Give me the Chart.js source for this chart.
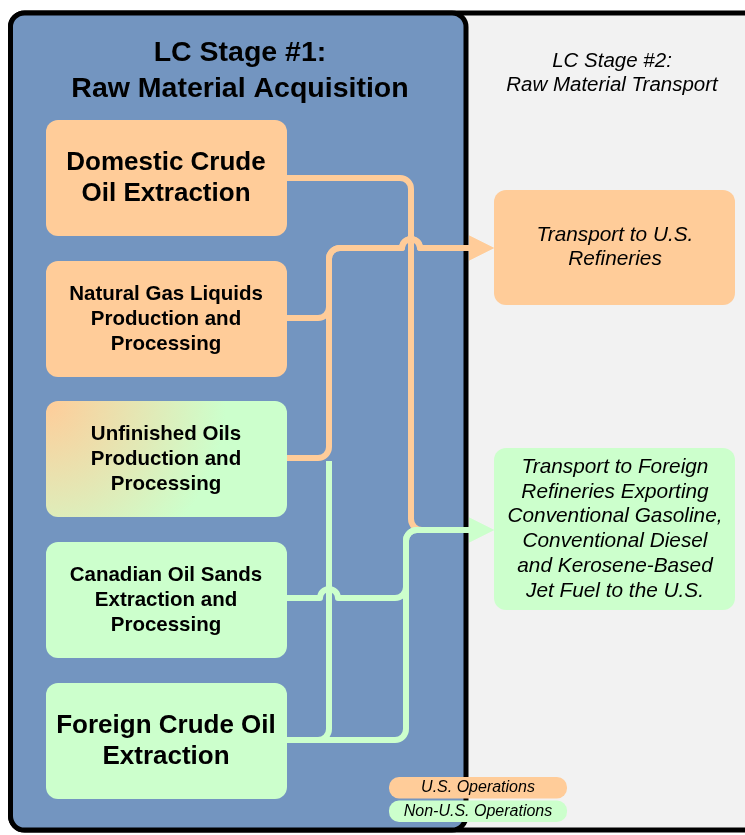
<!DOCTYPE html>
<html>
<head>
<meta charset="utf-8">
<style>
  html, body { margin: 0; padding: 0; background: #fff; }
  #wrap { width: 745px; height: 835px; position: relative; }
</style>
<script src="https://cdn.jsdelivr.net/npm/chart.js@4.4.1/dist/chart.umd.min.js"></script>
</head>
<body>
<div id="wrap"><canvas id="main-chart"></canvas></div>
<script>
// ---- diagram content ----
const stageTitles   = [['LC Stage #1:', 'Raw Material Acquisition'], ['LC Stage #2:', 'Raw Material Transport']];
const sourceNames   = [
  ['Domestic Crude', 'Oil Extraction'],
  ['Natural Gas Liquids', 'Production and', 'Processing'],
  ['Unfinished Oils', 'Production and', 'Processing'],
  ['Canadian Oil Sands', 'Extraction and', 'Processing'],
  ['Foreign Crude Oil', 'Extraction']
];
const sourceOps     = ['us', 'us', 'mixed', 'non', 'non'];
const targetNames   = [
  ['Transport to U.S.', 'Refineries'],
  ['Transport to Foreign', 'Refineries Exporting', 'Conventional Gasoline,', 'Conventional Diesel', 'and Kerosene-Based', 'Jet Fuel to the U.S.']
];
const targetOps     = ['us', 'non'];
const legendLabels  = ['U.S. Operations', 'Non-U.S. Operations'];
const legendOps     = ['us', 'non'];

// ---- layout (diagram units, 745 x 835, y down) ----
const srcX = 46, srcW = 241, srcH = 116;
const srcTop = [120, 261, 401, 542, 683];
const tgtX = 494, tgtW = 241;
const tgtBox = [[190, 115], [448, 162]];
const COLORS = { us: '#ffcc99', non: '#ccffcc', blue: '#7395c0', grey: '#f2f2f2' };
const FONT = '"Liberation Sans", Arial, sans-serif';

// routes: point lists, {hop:x} marks a jump over a vertical line
const routes = [
  { op: 'us',  pts: [[284,178],[411,178],[411,530],[440,530]] },
  { op: 'us',  pts: [[284,318],[329,318],[329,248],{hop:411},[472,248]], arrow: true },
  { op: 'us',  pts: [[284,458],[329,458],[329,248],{hop:411},[472,248]], arrow: true },
  { op: 'non', pts: [[329,461],[329,740],[284,740]] },
  { op: 'non', pts: [[284,740],[406,740],[406,530],[472,530]], arrow: true },
  { op: 'non', pts: [[284,598],{hop:329},[406,598],[406,530],[472,530]], arrow: true }
];

function rr(ctx, x, y, w, h, r) {
  ctx.beginPath();
  ctx.moveTo(x + r, y);
  ctx.arcTo(x + w, y, x + w, y + h, r);
  ctx.arcTo(x + w, y + h, x, y + h, r);
  ctx.arcTo(x, y + h, x, y, r);
  ctx.arcTo(x, y, x + w, y, r);
  ctx.closePath();
}

const diagram = {
  id: 'diagram',
  beforeDatasetsDraw(ch) {
    const c = ch.ctx, xs = ch.scales.x, ys = ch.scales.y;
    const X = v => xs.getPixelForValue(v), Y = v => ys.getPixelForValue(v);
    c.save();

    // outer frame + stage panels
    rr(c, X(10.5), Y(13), X(790) - X(10.5), Y(830) - Y(13), 14);
    c.fillStyle = COLORS.grey; c.fill();
    c.lineWidth = 5; c.strokeStyle = '#000'; c.stroke();
    rr(c, X(10.5), Y(13), X(466) - X(10.5), Y(830) - Y(13), 14);
    c.fillStyle = COLORS.blue; c.fill(); c.stroke();

    // titles
    c.fillStyle = '#000'; c.textAlign = 'center'; c.textBaseline = 'middle';
    c.font = 'bold 28.5px ' + FONT;
    c.fillText(stageTitles[0][0], X(240), Y(53));
    c.fillText(stageTitles[0][1], X(240), Y(89));
    c.font = 'italic 20.5px ' + FONT;
    c.fillText(stageTitles[1][0], X(612), Y(61));
    c.fillText(stageTitles[1][1], X(612), Y(85));

    // connectors
    c.lineWidth = 6; c.lineJoin = 'round'; c.lineCap = 'butt';
    const R = 11, HR = 9;
    const ptOf = (p, k, yPrev) => p[k].hop !== undefined ? [p[k].hop, yPrev] : p[k];
    routes.forEach(rt => {
      c.strokeStyle = COLORS[rt.op];
      c.beginPath();
      const p = rt.pts;
      c.moveTo(X(p[0][0]), Y(p[0][1]));
      let yLast = p[0][1];
      for (let i = 1; i < p.length; i++) {
        const q = p[i];
        if (q.hop !== undefined) {
          const y = yLast, hx = q.hop, r = X(hx + HR) - X(hx);
          c.lineTo(X(hx - HR), Y(y));
          c.arc(X(hx), Y(y), r, Math.PI, 2 * Math.PI, false);
          continue;
        }
        yLast = q[1];
        const nxt = p[i + 1];
        if (nxt) {
          const n = ptOf(p, i + 1, q[1]);
          c.arcTo(X(q[0]), Y(q[1]), X(n[0]), Y(n[1]), R);
        } else c.lineTo(X(q[0]), Y(q[1]));
      }
      c.stroke();
      if (rt.arrow) {
        const e = p[p.length - 1];
        c.fillStyle = COLORS[rt.op];
        c.beginPath();
        c.moveTo(X(469), Y(e[1] - 12.5));
        c.lineTo(X(494), Y(e[1]));
        c.lineTo(X(469), Y(e[1] + 12.5));
        c.closePath(); c.fill();
      }
    });

    // source boxes
    sourceNames.forEach((lines, i) => {
      const x = X(srcX), y = Y(srcTop[i]), w = X(srcX + srcW) - x, h = Y(srcTop[i] + srcH) - y;
      rr(c, x, y, w, h, 12);
      if (sourceOps[i] === 'mixed') {
        const g = c.createRadialGradient(x, y, 0, x, y, 180);
        g.addColorStop(0, COLORS.us); g.addColorStop(1, COLORS.non);
        c.fillStyle = g;
      } else c.fillStyle = COLORS[sourceOps[i]];
      c.fill();
      const big = lines.length === 2;
      const fs = big ? 26 : 20.5, lh = big ? 31 : 25;
      c.font = 'bold ' + fs + 'px ' + FONT;
      c.fillStyle = '#000';
      const cy = srcTop[i] + srcH / 2 - (lines.length - 1) * lh / 2;
      lines.forEach((t, k) => c.fillText(t, X(166), Y(cy + k * lh)));
    });

    // target boxes
    targetNames.forEach((lines, i) => {
      const [ty, th] = tgtBox[i];
      const x = X(tgtX), y = Y(ty), w = X(tgtX + tgtW) - x, h = Y(ty + th) - y;
      rr(c, x, y, w, h, 12);
      c.fillStyle = COLORS[targetOps[i]]; c.fill();
      c.font = 'italic 20.8px ' + FONT; c.fillStyle = '#000';
      const lh = i === 0 ? 24 : 24.8;
      const cy = ty + th / 2 - (lines.length - 1) * lh / 2;
      lines.forEach((t, k) => c.fillText(t, X(615), Y(cy + k * lh)));
    });

    // legend pills
    legendLabels.forEach((t, i) => {
      const ly = 777 + i * 23.5;
      rr(c, X(389), Y(ly), X(567) - X(389), Y(ly + 21.5) - Y(ly), 10);
      c.fillStyle = COLORS[legendOps[i]]; c.fill();
      c.font = 'italic 16px ' + FONT; c.fillStyle = '#000';
      c.fillText(t, X(478), Y(ly + 11));
    });

    c.restore();
  }
};

chart = new Chart(document.getElementById('main-chart'), {
  type: 'scatter',
  data: {
    datasets: [{
      label: 'Sources',
      data: sourceNames.map((n, i) => ({ x: srcX + srcW / 2, y: srcTop[i] + srcH / 2 })),
      pointRadius: 0, backgroundColor: 'transparent', borderColor: 'transparent'
    }]
  },
  options: {
    responsive: true, maintainAspectRatio: false,
    animation: false,
    layout: { padding: 0 },
    plugins: { legend: { display: false }, tooltip: { enabled: false } },
    scales: {
      x: { type: 'linear', min: 0, max: 745, display: false },
      y: { type: 'linear', min: 0, max: 835, reverse: true, display: false }
    }
  },
  plugins: [diagram]
});
</script>
</body>
</html>
